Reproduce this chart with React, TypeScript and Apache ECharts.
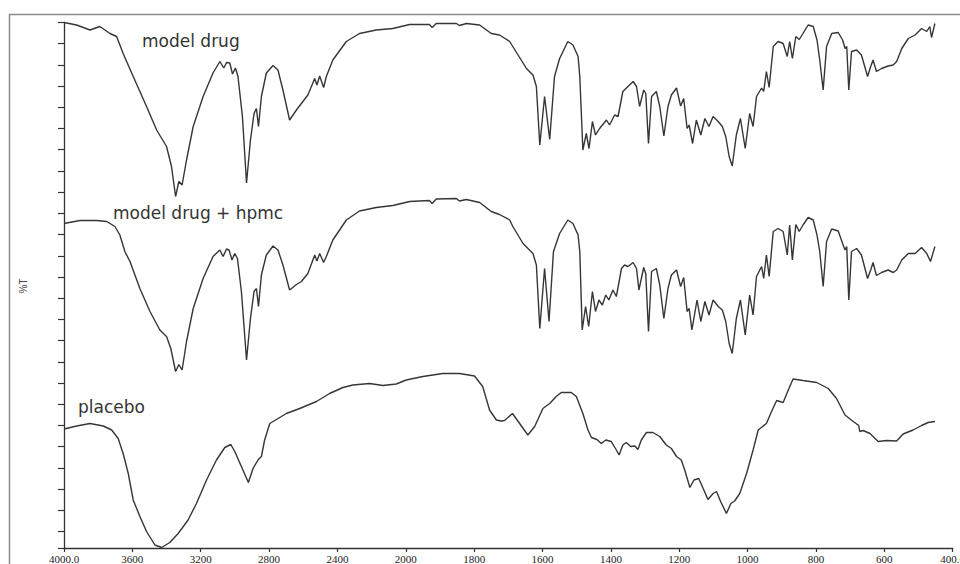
import React, { useEffect, useRef } from "react";
import * as echarts from "echarts";

// Wavenumber (cm-1) vs %T (arbitrary offset units)
const modelDrug: [number, number][] = [
  [4000,105.1],[3926,104.6],[3848,103.6],[3790,104.3],[3731,102.9],[3692,102.3],[3654,98.9],[3595,94.3],[3517,88.3],[3458,83.6],[3400,80.3],[3371,76.3],[3347,70.3],[3328,73.3],[3309,72.6],[3283,77.6],[3244,84.3],[3186,90.3],[3128,95.0],[3088,97.3],[3065,96.0],[3049,97.1],[3030,97.0],[3014,94.8],[2997,96.0],[2982,94.3],[2956,86.3],[2932,73.0],[2909,81.6],[2888,86.9],[2874,87.9],[2862,84.3],[2845,90.3],[2816,95.0],[2777,96.5],[2748,95.6],[2719,91.6],[2680,85.6],[2640,87.6],[2611,88.9],[2573,90.6],[2533,93.9],[2520,92.6],[2504,94.4],[2481,92.1],[2465,94.3],[2427,97.6],[2348,101.3],[2271,102.9],[2173,103.6],[2076,103.9],[1989,104.7],[1931,104.7],[1923,104.1],[1911,104.9],[1852,104.9],[1843,104.5],[1823,104.9],[1784,104.6],[1750,102.9],[1726,102.6],[1696,101.3],[1687,100.3],[1647,95.9],[1628,94.6],[1618,92.3],[1608,80.6],[1594,90.3],[1579,81.7],[1565,94.3],[1550,97.9],[1526,101.3],[1511,100.6],[1496,98.3],[1491,94.3],[1482,79.6],[1472,82.9],[1464,79.9],[1454,85.3],[1445,82.6],[1433,83.9],[1413,85.6],[1404,84.6],[1389,86.6],[1379,86.3],[1365,91.3],[1350,92.3],[1335,93.3],[1325,92.3],[1316,88.3],[1304,91.6],[1298,90.9],[1290,80.9],[1281,90.3],[1267,91.3],[1257,88.3],[1245,82.4],[1233,88.3],[1223,90.6],[1208,92.0],[1196,88.4],[1187,89.9],[1177,83.9],[1171,84.6],[1161,80.9],[1150,85.6],[1137,82.6],[1125,85.9],[1113,84.3],[1101,86.3],[1086,85.3],[1074,84.3],[1064,82.3],[1054,78.3],[1045,76.4],[1033,82.6],[1021,85.9],[1007,79.9],[994,86.9],[984,84.3],[974,90.3],[959,92.0],[953,91.3],[945,95.3],[937,92.1],[925,100.3],[911,101.3],[896,100.9],[884,98.3],[877,101.3],[869,97.9],[859,102.3],[849,101.7],[838,102.9],[823,104.6],[808,104.3],[797,101.6],[789,97.6],[779,91.6],[769,100.3],[754,102.9],[735,103.1],[722,101.6],[715,99.9],[710,100.3],[704,91.6],[696,99.3],[681,99.6],[667,98.6],[649,94.3],[640,96.3],[633,97.6],[623,95.3],[608,95.9],[589,96.4],[574,96.6],[564,97.3],[549,99.9],[530,101.9],[510,102.6],[491,103.9],[476,103.3],[467,104.3],[462,102.1],[452,104.9]
];

const modelDrugHpmc: [number, number][] = [
  [4000,64.9],[3907,65.5],[3809,65.5],[3750,65.3],[3702,64.3],[3673,62.6],[3644,59.3],[3614,57.3],[3556,51.9],[3497,47.3],[3439,43.6],[3400,42.3],[3375,39.9],[3347,35.3],[3328,36.7],[3309,35.6],[3283,41.3],[3244,47.9],[3186,53.9],[3128,58.3],[3088,59.6],[3069,58.3],[3049,59.8],[3034,59.6],[3017,57.6],[3001,58.9],[2985,57.9],[2962,51.3],[2932,37.6],[2909,45.9],[2888,51.3],[2874,51.9],[2862,48.3],[2845,54.6],[2816,58.6],[2777,60.4],[2748,59.6],[2719,56.6],[2680,51.6],[2640,52.7],[2611,53.3],[2573,54.9],[2533,58.6],[2520,57.4],[2504,58.9],[2481,57.1],[2465,58.3],[2427,61.6],[2348,65.6],[2271,67.4],[2173,68.1],[2076,68.5],[1989,69.3],[1931,69.5],[1923,68.9],[1911,69.8],[1852,69.9],[1843,69.4],[1823,69.7],[1784,69.1],[1750,67.3],[1726,66.7],[1696,65.6],[1687,64.3],[1657,60.9],[1628,58.9],[1618,56.6],[1608,43.9],[1594,55.9],[1581,45.3],[1568,59.3],[1550,62.9],[1526,65.6],[1511,64.9],[1496,62.6],[1491,59.3],[1484,43.6],[1474,48.3],[1465,44.3],[1454,51.3],[1445,47.3],[1435,49.6],[1425,48.6],[1415,50.6],[1406,49.6],[1394,51.6],[1384,50.3],[1369,55.9],[1360,56.6],[1350,56.3],[1335,57.1],[1325,55.9],[1318,51.6],[1304,56.1],[1298,54.9],[1290,43.3],[1281,55.3],[1267,55.9],[1257,52.6],[1245,45.9],[1233,51.9],[1223,54.6],[1208,55.6],[1196,52.3],[1187,54.1],[1177,47.3],[1171,47.9],[1163,43.6],[1148,49.6],[1137,45.3],[1125,49.3],[1113,46.6],[1101,49.6],[1086,48.3],[1074,47.6],[1064,45.3],[1054,40.9],[1045,38.9],[1033,45.9],[1021,49.6],[1007,42.6],[994,50.6],[984,46.6],[974,54.3],[959,56.3],[953,53.9],[945,58.6],[937,54.3],[925,63.3],[911,63.9],[896,63.3],[884,58.6],[877,64.6],[869,57.6],[859,64.7],[849,63.3],[838,64.6],[823,66.1],[808,65.6],[797,62.6],[789,59.3],[779,52.3],[769,61.3],[754,63.8],[735,63.4],[722,60.9],[715,59.6],[710,60.3],[704,49.6],[696,59.3],[681,59.9],[667,58.6],[649,53.9],[640,55.6],[633,57.1],[623,54.5],[608,55.1],[589,55.6],[574,55.1],[564,55.6],[549,57.6],[530,58.9],[510,58.9],[491,60.1],[476,58.9],[465,57.3],[452,60.3]
];

const placebo: [number, number][] = [
  [4000,23.8],[3926,24.4],[3848,24.9],[3770,24.4],[3721,23.6],[3683,21.9],[3654,18.9],[3624,14.9],[3595,9.6],[3556,6.3],[3517,3.3],[3468,0.6],[3429,0.1],[3381,1.1],[3332,2.9],[3274,5.6],[3225,8.9],[3166,13.6],[3108,17.6],[3059,20.1],[3024,20.7],[3001,19.3],[2962,16.3],[2921,13.1],[2894,15.9],[2865,17.6],[2845,18.3],[2826,21.6],[2796,24.9],[2757,25.7],[2699,26.9],[2621,27.9],[2523,29.3],[2446,30.9],[2368,32.1],[2310,32.6],[2212,32.9],[2134,32.5],[2056,32.8],[1999,33.6],[1950,34.3],[1892,34.9],[1843,34.9],[1799,34.4],[1775,32.3],[1755,27.6],[1735,25.6],[1721,25.4],[1711,25.5],[1688,26.9],[1667,24.9],[1643,22.6],[1623,24.3],[1599,27.9],[1579,28.9],[1560,30.3],[1545,31.1],[1516,31.1],[1501,30.3],[1482,26.9],[1467,23.6],[1457,22.1],[1441,21.7],[1428,20.9],[1415,21.6],[1399,21.3],[1384,19.6],[1376,18.6],[1365,20.6],[1355,21.1],[1342,20.3],[1330,20.4],[1321,19.7],[1311,21.6],[1296,23.1],[1277,23.1],[1257,22.3],[1238,20.6],[1223,19.9],[1208,18.3],[1194,17.6],[1184,15.6],[1169,12.1],[1157,13.6],[1143,13.9],[1130,11.9],[1116,9.7],[1101,10.9],[1091,11.3],[1079,9.3],[1062,6.9],[1049,8.9],[1038,9.4],[1023,10.9],[1003,14.9],[984,19.6],[969,23.6],[945,24.9],[930,27.3],[915,29.5],[896,29.1],[881,31.6],[867,33.8],[838,33.5],[798,33.1],[764,31.9],[740,29.9],[715,26.6],[691,25.3],[675,24.5],[672,23.3],[662,23.5],[642,22.9],[618,21.3],[593,21.5],[564,21.4],[545,22.8],[516,23.6],[491,24.5],[472,25.1],[452,25.3]
];

const traceNames = ["model drug", "model drug + hpmc", "placebo"];
const yAxisName = "%T";

// x-axis: 4000-2000 at half the scale of 2000-400 (scale change at 2000)
const SCALE_BREAK = 2000;
const toU = (w: number) => (w <= SCALE_BREAK ? w : SCALE_BREAK + (w - SCALE_BREAK) / 2);
const fromU = (u: number) => (u <= SCALE_BREAK ? u : SCALE_BREAK + (u - SCALE_BREAK) * 2);

export default function App() {
  const ref = useRef<HTMLDivElement>(null);
  useEffect(() => {
    if (!ref.current) return;
    const chart = echarts.init(ref.current, undefined, { renderer: "svg", width: 960, height: 564 });
    const lineColor = "#363636";
    const mk = (name: string, data: [number, number][]) => ({
      name,
      type: "line",
      xAxisIndex: 0,
      yAxisIndex: 0,
      data: data.map(([w, t]) => [toU(w), t]),
      showSymbol: false,
      symbol: "none",
      clip: false,
      silent: true,
      lineStyle: { color: lineColor, width: 1.4 },
    });
    chart.setOption({
      animation: false,
      backgroundColor: "#ffffff",
      grid: { left: 64, right: 7.3, top: 22.5, bottom: 16, containLabel: false, outerBoundsMode: "none" },
      xAxis: {
        type: "value",
        min: 400,
        max: 3000,
        interval: 200,
        inverse: true,
        axisLine: { show: true, lineStyle: { color: "#333", width: 1.3 } },
        axisTick: { show: true, length: 4, inside: false, lineStyle: { color: "#333", width: 1.2 } },
        splitLine: { show: false },
        axisLabel: {
          show: true,
          showMinLabel: true,
          showMaxLabel: true,
          hideOverlap: false,
          margin: 5,
          color: "#222",
          fontFamily: "Liberation Serif",
          fontSize: 11,
          formatter: (v: number) => {
            const w = Math.round(fromU(v));
            return w === 4000 || w === 400 ? w.toFixed(1) : String(w);
          },
        },
      },
      yAxis: [
        { type: "value", min: 0, max: 105.1, show: false },
        {
          type: "value",
          position: "left",
          inverse: true,
          min: 0,
          max: 24.78,
          interval: 1,
          axisLine: { show: true, onZero: false, lineStyle: { color: "#333", width: 1.3 } },
          axisTick: { show: true, length: 6, inside: false, lineStyle: { color: "#333", width: 1.2 } },
          axisLabel: { show: false },
          splitLine: { show: false },
        },
      ],
      series: [mk(traceNames[0], modelDrug), mk(traceNames[1], modelDrugHpmc), mk(traceNames[2], placebo)],
      graphic: [
        {
          type: "rect",
          shape: { x: 9.5, y: 14.5, width: 1000, height: 700 },
          style: { fill: "none", stroke: "#8c8c8c", lineWidth: 1.5 },
          silent: true,
        },
        {
          type: "text",
          x: 23,
          y: 286,
          rotation: Math.PI / 2,
          style: { text: yAxisName, fill: "#444", font: "10px 'Liberation Sans'", align: "center", verticalAlign: "middle" },
        },
        {
          type: "text",
          x: 142,
          y: 41,
          style: { text: traceNames[0], fill: "#333", font: "17px 'DejaVu Sans'", align: "left", verticalAlign: "middle" },
        },
        {
          type: "text",
          x: 113,
          y: 212.5,
          style: { text: traceNames[1], fill: "#333", font: "17px 'DejaVu Sans'", align: "left", verticalAlign: "middle" },
        },
        {
          type: "text",
          x: 78,
          y: 407,
          style: { text: traceNames[2], fill: "#333", font: "17px 'DejaVu Sans'", align: "left", verticalAlign: "middle" },
        },
      ],
    });
    return () => chart.dispose();
  }, []);
  return (
    <div
      ref={ref}
      style={{ position: "fixed", left: 0, top: 0, width: 960, height: 564, background: "#fff", overflow: "hidden" }}
    />
  );
}
